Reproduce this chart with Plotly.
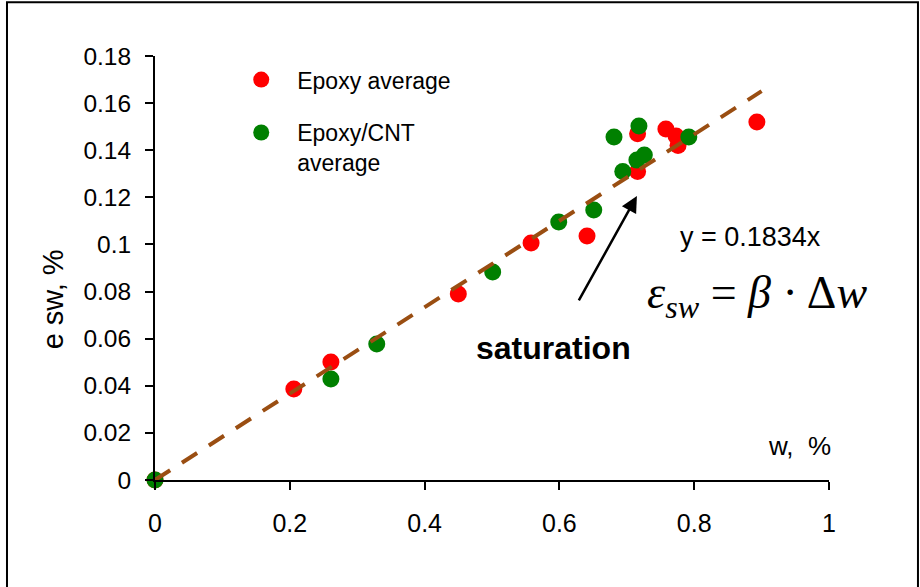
import plotly.graph_objects as go

# Data
epoxy_w = [0.0, 0.206, 0.261, 0.450, 0.558, 0.641, 0.716, 0.716, 0.758, 0.773, 0.776, 0.893]
epoxy_e = [0.0, 0.0386, 0.0501, 0.0790, 0.1006, 0.1036, 0.1310, 0.1470, 0.1490, 0.1460, 0.1420, 0.1520]

cnt_w = [0.0, 0.261, 0.329, 0.501, 0.599, 0.651, 0.681, 0.718, 0.694, 0.715, 0.726, 0.792]
cnt_e = [0.0, 0.0429, 0.0577, 0.0883, 0.1095, 0.1146, 0.1456, 0.1503, 0.1310, 0.1358, 0.1380, 0.1456]

slope = 0.1834
fit_w = [0.0, 0.9]
fit_e = [slope * w for w in fit_w]

x_ticks = [0, 0.2, 0.4, 0.6, 0.8, 1.0]
x_labels = ["0", "0.2", "0.4", "0.6", "0.8", "1"]
y_ticks = [0, 0.02, 0.04, 0.06, 0.08, 0.10, 0.12, 0.14, 0.16, 0.18]
y_labels = ["0", "0.02", "0.04", "0.06", "0.08", "0.1", "0.12", "0.14", "0.16", "0.18"]

arrow_tail = (0.6276, 0.0756)
arrow_head = (0.715, 0.1206)

FONT = "Liberation Sans, Arial, sans-serif"

fig = go.Figure()
fig.add_trace(go.Scatter(x=epoxy_w, y=epoxy_e, mode="markers", name="Epoxy average",
                         legendgroup="a",
                         marker=dict(color="#FF0000", size=17), cliponaxis=False))
fig.add_trace(go.Scatter(x=cnt_w, y=cnt_e, mode="markers", name="Epoxy/CNT<br>average",
                         legendgroup="b",
                         marker=dict(color="#008000", size=17), cliponaxis=False))
fig.add_trace(go.Scatter(x=fit_w, y=fit_e, mode="lines", showlegend=False,
                         line=dict(color="#9A4E12", width=4, dash="18px,14px"),
                         hoverinfo="skip"))

fig.update_layout(
    width=920, height=587,
    margin=dict(l=155, r=91, t=56, b=107),
    paper_bgcolor="white", plot_bgcolor="white",
    font=dict(family=FONT, size=22, color="black"),
    legend=dict(x=0.1042, y=0.995, xanchor="left", yanchor="top",
                font=dict(size=23), bgcolor="rgba(0,0,0,0)",
                itemwidth=62, valign="top", tracegroupgap=20),
    xaxis=dict(range=[0, 1], tickvals=x_ticks, ticktext=x_labels,
               showline=True, linecolor="black", linewidth=2,
               ticks="outside", ticklen=8, tickwidth=1.5, tickcolor="black",
               showgrid=False, zeroline=False, ticklabelstandoff=12,
               tickfont=dict(size=25)),
    yaxis=dict(range=[0, 0.18], tickvals=y_ticks, ticktext=y_labels,
               showline=True, linecolor="black", linewidth=2,
               ticks="outside", ticklen=8, tickwidth=1.5, tickcolor="black",
               showgrid=False, zeroline=False, ticklabelstandoff=9,
               tickfont=dict(size=24.5)),
    showlegend=True,
)

fig.add_shape(type="rect", xref="paper", yref="paper",
              x0=-0.2196, x1=1.132, y0=-0.26, y1=1.127,
              line=dict(color="black", width=2), fillcolor="rgba(0,0,0,0)", layer="below")

fig.add_annotation(xref="paper", yref="paper", x=-0.152, y=0.425, xanchor="center",
                   yanchor="middle", text="e sw, %",
                   textangle=-90, showarrow=False, font=dict(size=29))
fig.add_annotation(xref="paper", yref="paper", x=1.006, y=0.080, xanchor="right",
                   yanchor="middle", text="w,  %", showarrow=False, font=dict(size=26))
fig.add_annotation(xref="paper", yref="paper", x=0.884, y=0.573, xanchor="center",
                   yanchor="middle",
                   text="y = 0.1834x", showarrow=False, font=dict(size=27))
fig.add_annotation(xref="paper", yref="paper", x=0.591, y=0.311, xanchor="center",
                   yanchor="middle",
                   text="<b>saturation</b>", showarrow=False, font=dict(size=32))
fig.add_annotation(xref="paper", yref="paper", x=0.727, y=0.435, xanchor="left",
                   yanchor="middle",
                   text="<i>ε</i><sub><i>sw</i></sub> = <i>β</i> · Δ<i>w</i>",
                   showarrow=False,
                   font=dict(size=46, family="Liberation Serif, Times New Roman, serif"))
fig.add_annotation(x=arrow_head[0], y=arrow_head[1], ax=arrow_tail[0], ay=arrow_tail[1],
                   xref="x", yref="y", axref="x", ayref="y", text="",
                   showarrow=True, arrowhead=2, arrowsize=1.3, arrowwidth=2.5,
                   arrowcolor="black")

fig.write_html("out.html")
